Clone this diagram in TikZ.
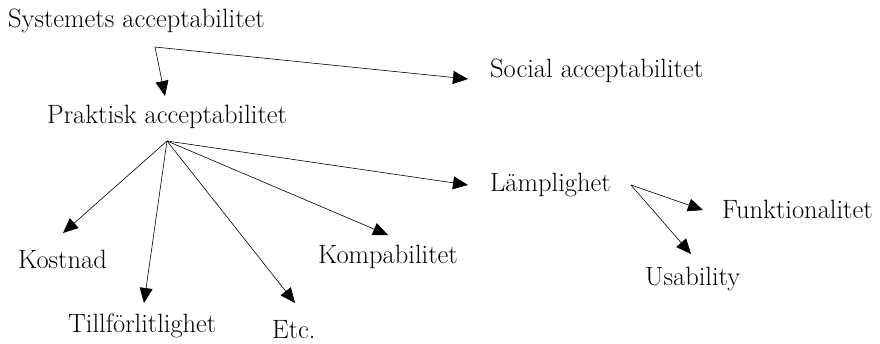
\documentclass[tikz,border=0pt]{standalone}
\usepackage{fontspec}
\usepackage{tikz}
\usetikzlibrary{arrows.meta}

\begin{document}
\begin{tikzpicture}[
  x=1pt, y=-1pt,
  term/.style={anchor=west, inner sep=0pt, font=\fontsize{26.5}{30}\selectfont},
  arrow/.style={-{Triangle[length=15pt,width=13pt]}, line width=0.6pt}
]
\useasboundingbox (0,0) rectangle (880,343);

\node[term] (sys) at (8,21) {Systemets acceptabilitet};
\node[term] (social) at (490,71) {Social acceptabilitet};
\node[term] (prak) at (47,117) {Praktisk acceptabilitet};
\node[term] (kost) at (18,259) {Kostnad};
\node[term] (till) at (68,326) {Tillförlitlighet};
\node[term] (etc) at (272,330) {Etc.};
\node[term] (komp) at (318,257) {Kompabilitet};
\node[term] (lamp) at (490,185) {Lämplighet};
\node[term] (funk) at (722,209) {Funktionalitet};
\node[term] (usab) at (645,279) {Usability};

\coordinate (sysfork) at (155,47);
\coordinate (prakfork) at (167,141);
\coordinate (lampfork) at ([shift={(20,0)}]lamp.east);

\draw[arrow] (sysfork) -- ([shift={(-22,8)}]social.west);
\draw[arrow] (sysfork) -- ([shift={(118,-21)}]prak.west);
\draw[arrow] (prakfork) -- ([shift={(45,-26)}]kost.west);
\draw[arrow] (prakfork) -- ([shift={(76,-23)}]till.west);
\draw[arrow] (prakfork) -- ([shift={(23,-27)}]etc.west);
\draw[arrow] (prakfork) -- ([shift={(70,-22)}]komp.west);
\draw[arrow] (prakfork) -- ([shift={(-22,0)}]lamp.west);
\draw[arrow] (lampfork) -- ([shift={(-19,1)}]funk.west);
\draw[arrow] (lampfork) -- ([shift={(46,-25)}]usab.west);
\end{tikzpicture}
\end{document}
